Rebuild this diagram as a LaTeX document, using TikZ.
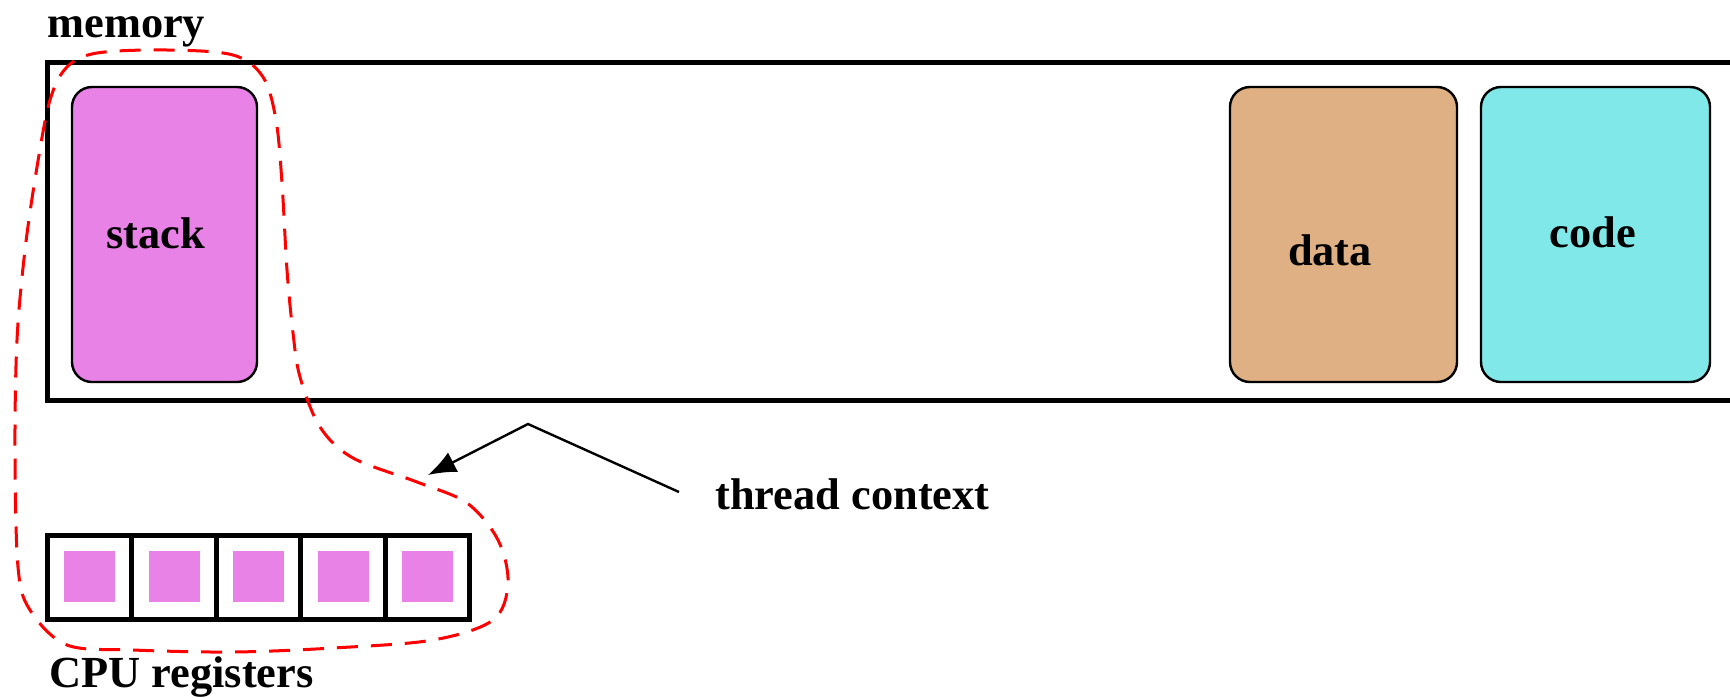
\documentclass[tikz,border=0pt]{standalone}
\usepackage{fontspec}
\setmainfont{Liberation Serif}
\usetikzlibrary{arrows.meta}
\definecolor{stackpink}{HTML}{E882E6}
\definecolor{datatan}{HTML}{DFB083}
\definecolor{codecyan}{HTML}{80E8E8}
\begin{document}
\begin{tikzpicture}[x=0.5pt,y=-0.5pt,
  lbl/.style={font=\fontsize{22.2}{26}\selectfont\bfseries, inner sep=0pt},
  segbox/.style={draw=black, line width=1.2pt, rounded corners=10pt},
  regcell/.style={draw=black, line width=2.5pt},
  regfill/.style={fill=stackpink, draw=none},
  ctxline/.style={draw=red, line width=1.5pt, dash pattern=on 10.5pt off 6.5pt},
  pointer/.style={line width=1.2pt, -{Latex[length=14pt,width=11pt]}}
]
\useasboundingbox (0,0) rectangle (1730,697);
\begin{scope}
\clip (0,0) rectangle (1730,697);
% memory
\draw[line width=2.5pt] (1800,62) -- (47,62) -- (47,400) -- (1800,400);
\node[lbl, anchor=base west] (mem) at (47,37) {memory};
% segments
\draw[segbox, fill=stackpink] (72,87) rectangle (257,382);
\draw[segbox, fill=datatan] (1230,87) rectangle (1457,382);
\draw[segbox, fill=codecyan] (1481,87) rectangle (1710,382);
\node[lbl, anchor=base] (stack) at (156,248) {stack};
\node[lbl, anchor=base] (data) at (1330,265) {data};
\node[lbl, anchor=base] (code) at (1593,247) {code};
% registers
\foreach \i in {0,...,4}{
  \fill[regfill] ({64+\i*84.5},551) rectangle ({115+\i*84.5},602);
}
\draw[regcell] (47,535) rectangle (469,619);
\foreach \xx in {131,216,300,385}{
  \draw[regcell] (\xx,535) -- (\xx,619);
}
\node[lbl, anchor=base west] (cpu) at (49,687) {CPU registers};
% thread context outline
\draw[ctxline] plot[smooth cycle, tension=0.55] coordinates {
  (300,377) (320,427) (353,458) (417,482) (467,503) (498,540)
  (508,583) (493,620) (433,640) (333,648) (233,652) (133,650) (67,645)
  (30,610) (18,567) (15,450) (17,340) (25,250) (37,167) (50,100)
  (67,67) (97,53) (167,50) (233,55) (263,77) (276,120) (282,183)
  (287,270) (293,333)};
% label and pointer
\node[lbl, anchor=base west] (ctx) at (715,509) {thread context};
\coordinate (bend) at (528,424);
\coordinate (tip) at (428,475);
\coordinate (start) at (679,492);
\draw[pointer] (start) -- (bend) -- (tip);
\end{scope}
\end{tikzpicture}
\end{document}
